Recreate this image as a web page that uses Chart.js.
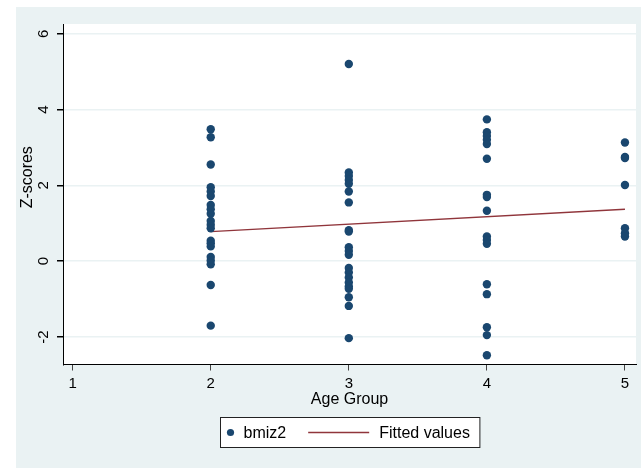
<!DOCTYPE html>
<html>
<head>
<meta charset="utf-8">
<script src="https://cdn.jsdelivr.net/npm/chart.js@4/dist/chart.umd.min.js"></script>
<style>
  body { margin: 0; background: #fff; }
  #wrap { width: 641px; height: 468px; }
</style>
</head>
<body>
<div id="wrap"><canvas id="chart" width="641" height="468"></canvas></div>
<script>
// age groups and the z-scores
const ageGroups = [2, 3, 4, 5];
const zAge2 = [3.48, 3.27, 2.55, 1.95, 1.84, 1.72, 1.48, 1.37, 1.25, 1.06, 0.96, 0.87, 0.54, 0.47, 0.39, 0.11, 0.02, -0.08, -0.63, -1.70];
const zAge3 = [5.20, 2.34, 2.25, 2.14, 2.04, 1.84, 1.55, 0.82, 0.78, 0.37, 0.27, 0.17, -0.18, -0.30, -0.43, -0.56, -0.67, -0.73, -0.95, -1.18, -2.03];
const zAge4 = [3.74, 3.40, 3.30, 3.20, 3.09, 2.70, 1.75, 1.69, 1.33, 0.65, 0.56, 0.46, -0.61, -0.87, -1.74, -1.95, -2.48];
const zAge5 = [3.13, 2.75, 2.72, 2.01, 0.87, 0.74, 0.65];

// fitted line end points
const fitX = [2, 5];
const fitY = [0.78, 1.37];

const xTicks = [1, 2, 3, 4, 5];
const yTicks = [-2, 0, 2, 4, 6];

const navy = '#1a476f';
const maroon = '#90353b';
const bgBlue = '#eaf2f3';
const font = '"Liberation Sans", Arial, sans-serif';

const zGroups = [zAge2, zAge3, zAge4, zAge5];
const scatterPts = [];
zGroups.forEach((arr, i) => {
  arr.forEach(v => scatterPts.push({ x: ageGroups[i], y: v }));
});
const fitPts = fitX.map((x, i) => ({ x: x, y: fitY[i] }));

// outer grey-blue region and white plot area
const background = {
  id: 'background',
  beforeDraw(chart) {
    const c = chart.ctx, a = chart.chartArea;
    c.save();
    c.fillStyle = '#fff';
    c.fillRect(0, 0, chart.width, chart.height);
    c.fillStyle = bgBlue;
    c.fillRect(16, 7, chart.width - 16, chart.height - 7);
    c.fillStyle = '#fff';
    c.fillRect(a.left, a.top, a.right - a.left, a.bottom - a.top);
    c.restore();
  }
};

// y title (sits a bit above the middle, like the original) and the boxed legend
const extras = {
  id: 'extras',
  afterDraw(chart) {
    const c = chart.ctx, a = chart.chartArea;
    c.save();
    c.fillStyle = '#000';
    c.font = '16px ' + font;
    c.translate(28, (a.top + a.bottom) / 2 - 17);
    c.rotate(-Math.PI / 2);
    c.textAlign = 'center';
    c.textBaseline = 'middle';
    c.fillText('Z-scores', 0, 0);
    c.restore();

    const ds = chart.data.datasets;
    c.save();
    c.font = '16px ' + font;
    const w1 = c.measureText(ds[0].label).width;
    const w2 = c.measureText(ds[1].label).width;
    const boxW = 10 + 13 + w1 + 22 + 61 + 10 + w2 + 10;
    const left = Math.round((a.left + a.right) / 2 - boxW / 2) + 0.5;
    const top = Math.round(a.bottom + 52) + 0.5;
    const boxH = 30;
    const cy = top + boxH / 2;
    c.fillStyle = '#fff';
    c.fillRect(left, top, boxW, boxH);
    c.strokeStyle = '#222';
    c.lineWidth = 1;
    c.strokeRect(left, top, boxW, boxH);
    c.fillStyle = ds[0].backgroundColor;
    c.beginPath();
    c.arc(left + 10, cy, 3.6, 0, Math.PI * 2);
    c.fill();
    c.fillStyle = '#000';
    c.textBaseline = 'middle';
    c.fillText(ds[0].label, left + 23, cy + 1);
    const lx = left + 23 + w1 + 22;
    c.strokeStyle = ds[1].borderColor;
    c.lineWidth = 1.6;
    c.beginPath();
    c.moveTo(lx, cy);
    c.lineTo(lx + 61, cy);
    c.stroke();
    c.fillText(ds[1].label, lx + 71, cy + 1);
    c.restore();
  }
};

new Chart(document.getElementById('chart'), {
  type: 'scatter',
  data: {
    datasets: [{
      label: 'bmiz2',
      data: scatterPts,
      backgroundColor: navy,
      borderColor: navy,
      pointRadius: 4.2,
      borderWidth: 0
    }, {
      type: 'line',
      label: 'Fitted values',
      data: fitPts,
      borderColor: maroon,
      backgroundColor: maroon,
      borderWidth: 1.4,
      pointRadius: 0,
      fill: false
    }]
  },
  options: {
    responsive: false,
    animation: false,
    layout: { padding: { left: 16, top: 24, right: 5, bottom: 58.5 } },
    plugins: {
      legend: { display: false },
      tooltip: { enabled: false }
    },
    scales: {
      x: {
        type: 'linear',
        min: 0.93,
        max: 5.08,
        afterBuildTicks: s => { s.ticks = xTicks.map(v => ({ value: v })); },
        afterFit: s => { s.height = 45; },
        grid: { drawOnChartArea: false, drawTicks: true, tickLength: 6, tickColor: '#444' },
        border: { color: '#000', width: 1 },
        ticks: { color: '#000', padding: 4, font: { size: 15, family: font } },
        title: { display: true, text: 'Age Group', color: '#000', padding: { top: 0, bottom: 0 }, font: { size: 16, family: font } }
      },
      y: {
        min: -2.725,
        max: 6.256,
        afterBuildTicks: s => { s.ticks = yTicks.map(v => ({ value: v })); },
        afterFit: s => { s.width = 47; },
        grid: { color: bgBlue, lineWidth: 1.5, tickColor: '#000', tickLength: 6 },
        border: { color: '#000', width: 1 },
        ticks: { color: '#000', padding: 6, crossAlign: 'center', minRotation: 90, maxRotation: 90, font: { size: 15, family: font } }
      }
    }
  },
  plugins: [background, extras]
});
</script>
</body>
</html>
